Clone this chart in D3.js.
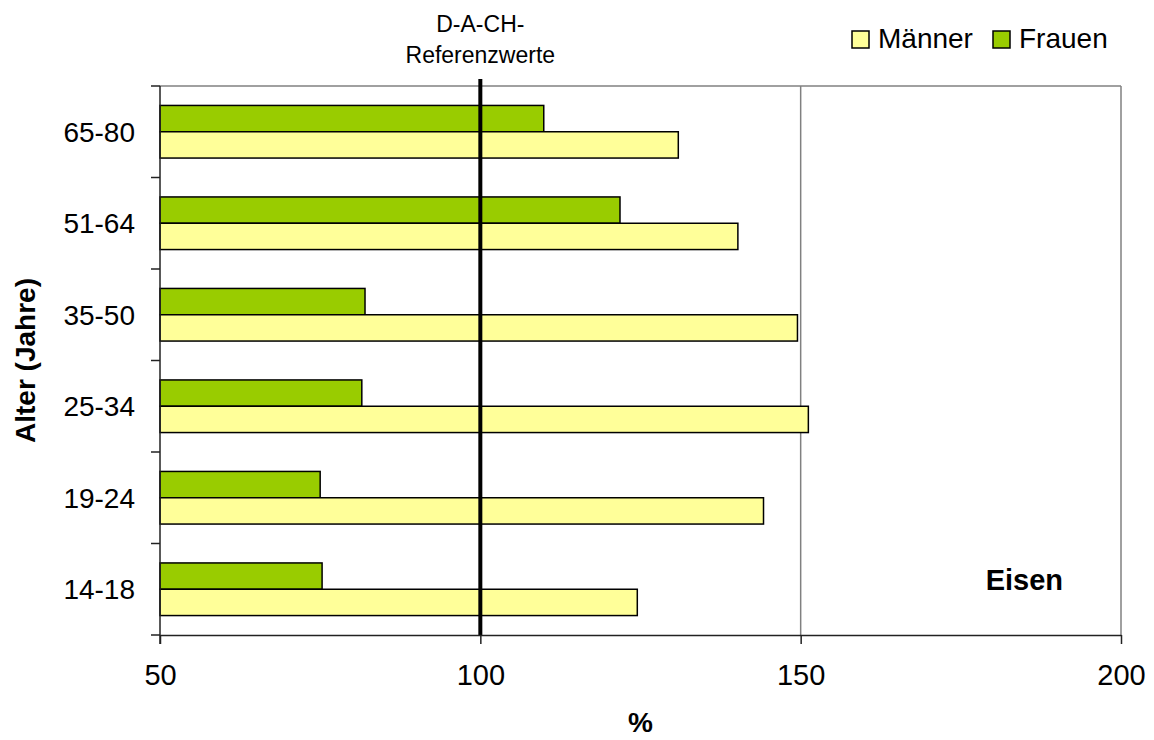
<!DOCTYPE html>
<html>
<head>
<meta charset="utf-8">
<script src="https://cdn.jsdelivr.net/npm/d3@7"></script>
<style>
  body { margin: 0; background: #fff; }
  text { font-family: "Liberation Sans", Arial, sans-serif; }
</style>
</head>
<body>
<div id="chart-area"></div>
<script>
const categories = ["65-80", "51-64", "35-50", "25-34", "19-24", "14-18"];
const maenner = [130.9, 140.2, 149.5, 151.2, 144.2, 124.5];
const frauen = [109.9, 121.8, 82.0, 81.5, 75.0, 75.3];
const xTicks = [50, 100, 150, 200];
const referenceValue = 100;
const series = [
    { name: "Frauen", values: frauen, color: "#99CC00" },
    { name: "Männer", values: maenner, color: "#FFFF99" }
];
const legendOrder = ["Männer", "Frauen"];

const config = {
    width: 1154,
    height: 740,
    margin: { left: 160, right: 33, top: 86, bottom: 105 }
};
config.chartWidth = config.width - config.margin.left - config.margin.right;
config.chartHeight = config.height - config.margin.top - config.margin.bottom;

const svg = d3.select("#chart-area")
    .append("svg")
    .attr("width", config.width)
    .attr("height", config.height);

const g = svg.append("g")
    .attr("transform", `translate(${config.margin.left}, ${config.margin.top})`);

const xScale = d3.scaleLinear()
    .domain([50, 200])
    .range([0, config.chartWidth]);

const yScale = d3.scaleBand()
    .domain(categories)
    .range([0, config.chartHeight])
    .paddingInner(0.425)
    .paddingOuter(0.2125);

const ySub = d3.scaleBand()
    .domain(series.map(s => s.name))
    .range([0, yScale.bandwidth()]);

// gridlines and frame
g.selectAll(".grid")
    .data(xTicks.slice(1))
    .enter().append("line")
    .attr("x1", d => xScale(d)).attr("x2", d => xScale(d))
    .attr("y1", 0).attr("y2", config.chartHeight)
    .style("stroke", "#808080").style("stroke-width", 1.5);
g.append("line")
    .attr("x1", 0).attr("x2", config.chartWidth)
    .attr("y1", 0).attr("y2", 0)
    .style("stroke", "#808080").style("stroke-width", 1.5);

// bars
const rows = categories.map((c, i) => ({ cat: c, i: i }));
series.forEach(s => {
    g.selectAll(".bar-" + s.name)
        .data(rows)
        .enter().append("rect")
        .attr("x", 0)
        .attr("y", d => yScale(d.cat) + ySub(s.name))
        .attr("width", d => xScale(s.values[d.i]))
        .attr("height", ySub.bandwidth())
        .attr("fill", s.color)
        .style("stroke", "#000")
        .style("stroke-width", 1.5);
});

// reference line
g.append("line")
    .attr("x1", xScale(referenceValue)).attr("x2", xScale(referenceValue))
    .attr("y1", -7).attr("y2", config.chartHeight)
    .style("stroke", "#000").style("stroke-width", 4);

// axes
const xAxisGroup = g.append("g")
    .attr("transform", `translate(0, ${config.chartHeight})`)
    .call(d3.axisBottom(xScale).tickValues(xTicks).tickSizeInner(9).tickSizeOuter(0).tickPadding(20));
xAxisGroup.selectAll("text")
    .style("font-size", "29px").style("fill", "#000");
xAxisGroup.selectAll(".domain, .tick line")
    .style("stroke", "#222").style("stroke-width", 1.5);

const bandEdges = d3.range(categories.length + 1).map(i => i * config.chartHeight / categories.length);
const yAxisGroup = g.append("g");
yAxisGroup.append("line")
    .attr("x1", 0).attr("x2", 0).attr("y1", 0).attr("y2", config.chartHeight + 9)
    .style("stroke", "#222").style("stroke-width", 1.5);
yAxisGroup.selectAll(".ytick")
    .data(bandEdges)
    .enter().append("line")
    .attr("x1", -9).attr("x2", 0)
    .attr("y1", d => d).attr("y2", d => d)
    .style("stroke", "#222").style("stroke-width", 1.5);
yAxisGroup.selectAll(".ylabel")
    .data(categories)
    .enter().append("text")
    .attr("x", -25)
    .attr("y", d => yScale(d) + yScale.bandwidth() / 2)
    .attr("dy", "0.36em")
    .attr("text-anchor", "end")
    .style("font-size", "28px")
    .text(d => d);

// axis titles
svg.append("text")
    .attr("x", config.margin.left + config.chartWidth / 2)
    .attr("y", 732)
    .attr("text-anchor", "middle")
    .style("font-size", "28px").style("font-weight", "bold")
    .text("%");

svg.append("text")
    .attr("transform", `translate(35, ${config.margin.top + config.chartHeight / 2}) rotate(-90)`)
    .attr("text-anchor", "middle")
    .style("font-size", "28px").style("font-weight", "bold")
    .text("Alter (Jahre)");

// reference label
const refLabel = svg.append("text")
    .attr("x", config.margin.left + xScale(referenceValue))
    .attr("text-anchor", "middle")
    .style("font-size", "23px");
refLabel.append("tspan").attr("x", config.margin.left + xScale(referenceValue)).attr("y", 32).text("D-A-CH-");
refLabel.append("tspan").attr("x", config.margin.left + xScale(referenceValue)).attr("y", 63).text("Referenzwerte");

// Eisen label
svg.append("text")
    .attr("x", 1063)
    .attr("y", 590)
    .attr("text-anchor", "end")
    .style("font-size", "29px").style("font-weight", "bold")
    .text("Eisen");

// legend
const legendX = [852, 993];
const legend = svg.selectAll(".legend")
    .data(legendOrder)
    .enter().append("g")
    .attr("transform", (d, i) => `translate(${legendX[i]}, 31)`);
legend.append("rect")
    .attr("width", 17).attr("height", 17)
    .attr("fill", d => series.find(s => s.name === d).color)
    .style("stroke", "#000").style("stroke-width", 1.5);
legend.append("text")
    .attr("x", 26).attr("y", 17)
    .style("font-size", "28px")
    .text(d => d);
</script>
</body>
</html>
